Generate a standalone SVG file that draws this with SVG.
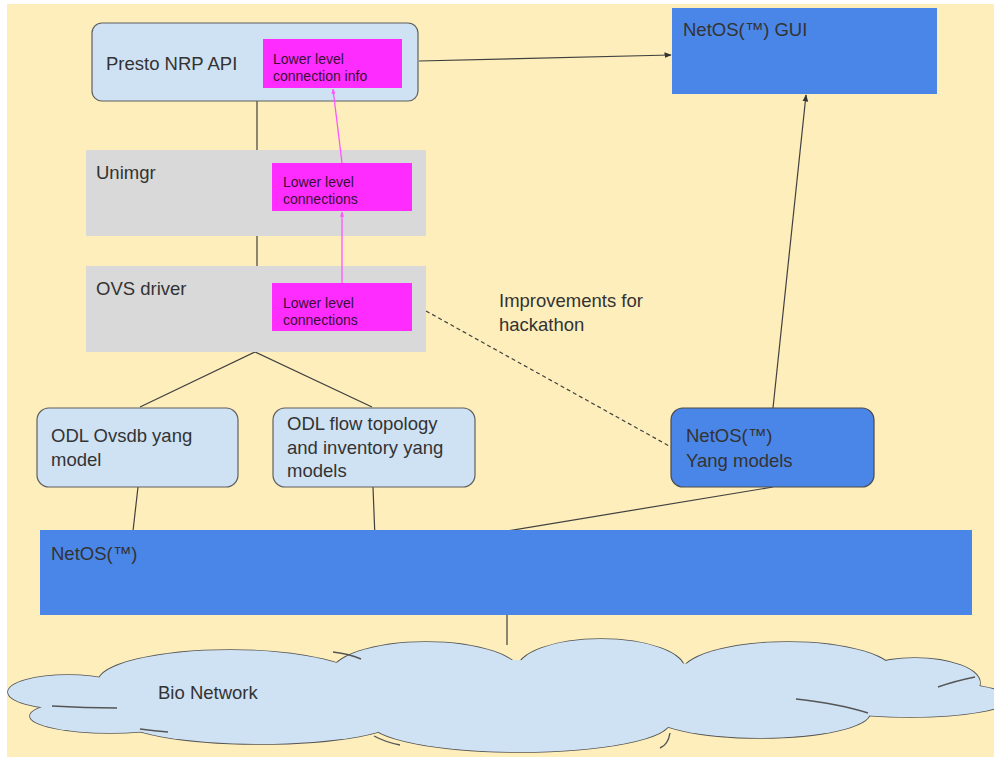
<svg xmlns="http://www.w3.org/2000/svg" width="994" height="759" viewBox="0 0 994 759">
<style>
text{font-family:"Liberation Sans",Arial,sans-serif;fill:#333333}
.t18{font-size:18.5px}
.t14{font-size:14px;fill:#3a1038}
.lb{fill:#cfe2f3;stroke:#5f5f5f;stroke-width:1.2}
.gr{fill:#d9d9d9}
.mg{fill:#ff2cff}
.bl{fill:#4a86e8}
.blr{fill:#4a86e8;stroke:#4a4a4a;stroke-width:1.2}
.ln{fill:none;stroke:#404040;stroke-width:1.2}
.pk{fill:none;stroke:#ff55ff;stroke-width:1.3}
.cl{fill:#cfe2f3;stroke:#555;stroke-width:1.6}
.cf{fill:#cfe2f3}
.st{fill:none;stroke:#555;stroke-width:1.4}
</style>
<defs>
<marker id="ah" viewBox="0 0 10 10" refX="9" refY="5" markerWidth="6" markerHeight="6" orient="auto"><path d="M0,1 L10,5 L0,9 z" fill="#333"/></marker>
<marker id="ap" viewBox="0 0 10 10" refX="9" refY="5" markerWidth="4" markerHeight="4" orient="auto"><path d="M0,1 L10,5 L0,9 z" fill="#ff55ff"/></marker>
</defs>
<rect x="0" y="0" width="994" height="759" fill="#ffffff"/>
<rect x="7" y="4" width="987" height="753" fill="#fdeebb"/>

<g id="connectors">
<line class="ln" x1="419" y1="61" x2="671" y2="55" marker-end="url(#ah)"/>
<line class="ln" x1="773" y1="408" x2="806" y2="95" marker-end="url(#ah)"/>
<line class="ln" x1="257" y1="101" x2="257" y2="150"/>
<line class="ln" x1="257" y1="236" x2="257" y2="266"/>
<polyline class="ln" points="140,407 255,352 372,407"/>
<line class="ln" x1="138" y1="487" x2="133" y2="531"/>
<line class="ln" x1="373" y1="487" x2="375" y2="538"/>
<line class="ln" x1="773" y1="487" x2="507" y2="531"/>
<line class="ln" x1="426" y1="311" x2="671" y2="447" stroke-dasharray="4,3"/>
<line class="ln" x1="507" y1="615" x2="507" y2="645"/>
</g>

<g id="presto">
<rect class="lb" x="92" y="23" width="326" height="78" rx="10"/>
<text class="t18" x="106" y="70">Presto NRP API</text>
</g>
<g id="presto-info">
<rect class="mg" x="263" y="39" width="139" height="49"/>
<text class="t14" x="273" y="64">Lower level</text>
<text class="t14" x="273" y="81">connection info</text>
</g>

<g id="unimgr">
<rect class="gr" x="86" y="150" width="340" height="86"/>
<text class="t18" x="96" y="179">Unimgr</text>
</g>
<g id="unimgr-conn">
<rect class="mg" x="272" y="163" width="140" height="48"/>
<text class="t14" x="283" y="187">Lower level</text>
<text class="t14" x="283" y="204">connections</text>
</g>

<g id="ovs">
<rect class="gr" x="86" y="266" width="340" height="86"/>
<text class="t18" x="96" y="295">OVS driver</text>
</g>
<g id="ovs-conn">
<rect class="mg" x="272" y="283" width="140" height="48"/>
<text class="t14" x="283" y="308">Lower level</text>
<text class="t14" x="283" y="325">connections</text>
</g>

<g id="pink-connectors">
<line class="pk" x1="342" y1="283" x2="342" y2="212" marker-end="url(#ap)"/>
<line class="pk" x1="342" y1="163" x2="333" y2="89" marker-end="url(#ap)"/>
</g>

<g id="gui">
<rect class="bl" x="672" y="8" width="265" height="86"/>
<text class="t18" x="683" y="36">NetOS(™) GUI</text>
</g>

<g id="hackathon-label">
<text class="t18" x="499" y="307">Improvements for</text>
<text class="t18" x="499" y="331">hackathon</text>
</g>

<g id="odl-ovsdb">
<rect class="lb" x="37" y="408" width="201" height="79" rx="12"/>
<text class="t18" x="51" y="442">ODL Ovsdb yang</text>
<text class="t18" x="51" y="466">model</text>
</g>

<g id="odl-flow">
<rect class="lb" x="273" y="408" width="202" height="79" rx="12"/>
<text class="t18" x="287" y="430">ODL flow topology</text>
<text class="t18" x="287" y="454">and inventory yang</text>
<text class="t18" x="287" y="477">models</text>
</g>

<g id="yang">
<rect class="blr" x="671" y="408" width="203" height="79" rx="12"/>
<text class="t18" x="686" y="442">NetOS(™)</text>
<text class="t18" x="686" y="467">Yang models</text>
</g>

<g id="netos">
<rect class="bl" x="40" y="530" width="932" height="85"/>
<text class="t18" x="51" y="560">NetOS(™)</text>
</g>

<g id="bio-network">
<g class="cl">
<ellipse cx="68" cy="692" rx="60" ry="17"/>
<ellipse cx="110" cy="716" rx="80" ry="17"/>
<ellipse cx="230" cy="682" rx="132" ry="32"/>
<ellipse cx="426" cy="674" rx="95" ry="32"/>
<ellipse cx="601" cy="670" rx="84" ry="31"/>
<ellipse cx="788" cy="674" rx="107" ry="32"/>
<ellipse cx="915" cy="683" rx="65" ry="25"/>
<ellipse cx="910" cy="699" rx="100" ry="18"/>
<ellipse cx="520" cy="722" rx="150" ry="30"/>
<ellipse cx="260" cy="718" rx="140" ry="26"/>
<ellipse cx="760" cy="713" rx="110" ry="25"/>
</g>
<g class="cf">
<ellipse cx="68" cy="692" rx="60" ry="17"/>
<ellipse cx="110" cy="716" rx="80" ry="17"/>
<ellipse cx="230" cy="682" rx="132" ry="32"/>
<ellipse cx="426" cy="674" rx="95" ry="32"/>
<ellipse cx="601" cy="670" rx="84" ry="31"/>
<ellipse cx="788" cy="674" rx="107" ry="32"/>
<ellipse cx="915" cy="683" rx="65" ry="25"/>
<ellipse cx="910" cy="699" rx="100" ry="18"/>
<ellipse cx="520" cy="722" rx="150" ry="30"/>
<ellipse cx="260" cy="718" rx="140" ry="26"/>
<ellipse cx="760" cy="713" rx="110" ry="25"/>
<ellipse cx="500" cy="695" rx="430" ry="35"/>
</g>
<path class="st" d="M52,706 Q85,708 117,708"/>
<path class="st" d="M140,729 Q155,731 168,732"/>
<path class="st" d="M333,652 Q350,654 361,659"/>
<path class="st" d="M796,699 Q840,704 868,713"/>
<path class="st" d="M938,687 Q955,681 975,677"/>
<path class="st" d="M374,736 Q385,742 400,745"/>
<path class="st" d="M670,733 Q668,745 660,748"/>
<text class="t18" x="158" y="699">Bio Network</text>
</g>
</svg>
